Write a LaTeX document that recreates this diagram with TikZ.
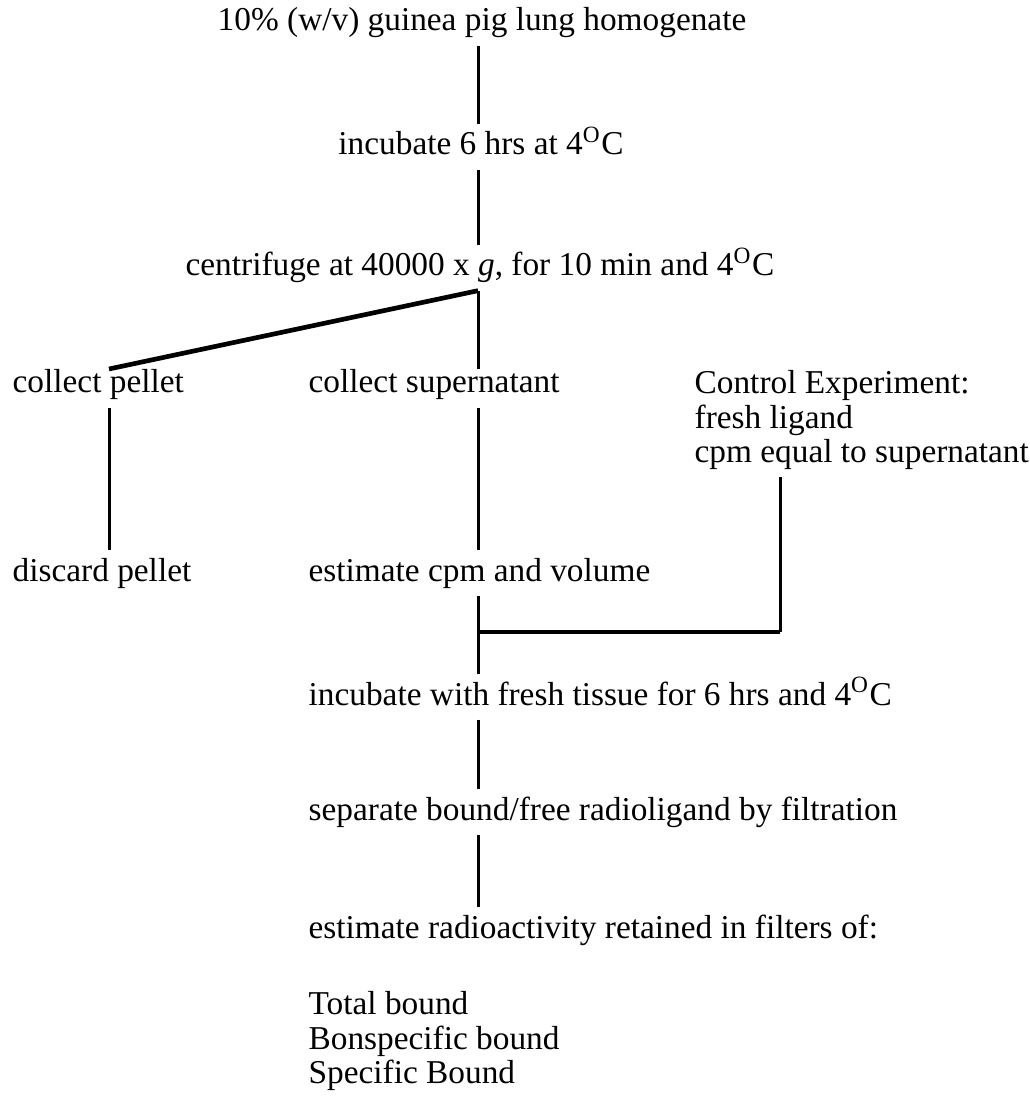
\documentclass[tikz,border=0pt]{standalone}
\usepackage{fontspec}
\setmainfont{Liberation Serif}
\usetikzlibrary{calc}
\tikzset{
  stp/.style={inner sep=0pt,font=\fontsize{10}{10.3}\selectfont,text height=7pt,text depth=2.2pt},
  blk/.style={inner sep=0pt,font=\fontsize{10}{10.3}\selectfont,align=left,anchor=north west},
  ln/.style={line width=.9pt,shorten <=2pt,shorten >=2pt},
  tk/.style={line width=1.4pt},
}
\newcommand{\degc}{4\textsuperscript{O}C}

\begin{document}
\begin{tikzpicture}[x=.3pt,y=-.3pt]
  \useasboundingbox (0,0) rectangle (1029,1097);
  \coordinate (sp) at (478,0);
  \coordinate (px) at (109,0);
  \coordinate (jn) at (780,632);
  \node[stp,anchor=base] (hom) at (482,31) {10\% (w/v) guinea pig lung homogenate};
  \node[stp,anchor=base] (inc) at (481,155) {incubate 6 hrs at \degc};
  \node[stp,anchor=base] (cen) at (480,276) {centrifuge at 40000 x \textit{g}, for 10 min and \degc};
  \node[stp,anchor=base west] (pel) at (12,393) {collect pellet};
  \node[stp,anchor=base west] (sup) at (308,393) {collect supernatant};
  \node[blk] (ctl) at (694,370) {Control Experiment:\\fresh ligand\\cpm equal to supernatant};
  \node[stp,anchor=base west] (dis) at (12,581) {discard pellet};
  \node[stp,anchor=base west] (est) at (308,581) {estimate cpm and volume};
  \node[stp,anchor=base west] (inf) at (308,705) {incubate with fresh tissue for 6 hrs and \degc};
  \node[stp,anchor=base west] (sep) at (308,820) {separate bound/free radioligand by filtration};
  \node[stp,anchor=base west] (rad) at (308,938) {estimate radioactivity retained in filters of:};
  \node[blk] (res) at (308,991) {Total bound\\Bonspecific bound\\Specific Bound};
  \coordinate (spl) at ([yshift=-2pt]cen.south -| sp);
  \draw[ln] (hom.south -| sp) -- (inc.north -| sp);
  \draw[ln] (inc.south -| sp) -- (cen.north -| sp);
  \draw[ln,shorten <=0pt,shorten >=0pt] (spl) -- (sup.north -| sp);
  \draw[tk] (spl) -- (pel.north -| px);
  \draw[ln] (pel.south -| px) -- (dis.north -| px);
  \draw[ln] (sup.south -| sp) -- (est.north -| sp);
  \draw[ln,shorten >=0pt] (ctl.south -| jn) -- (jn);
  \draw[tk] (jn) -- (jn -| sp);
  \draw[ln] (est.south -| sp) -- (inf.north -| sp);
  \draw[ln] (inf.south -| sp) -- (sep.north -| sp);
  \draw[ln] (sep.south -| sp) -- (rad.north -| sp);
\end{tikzpicture}
\end{document}
